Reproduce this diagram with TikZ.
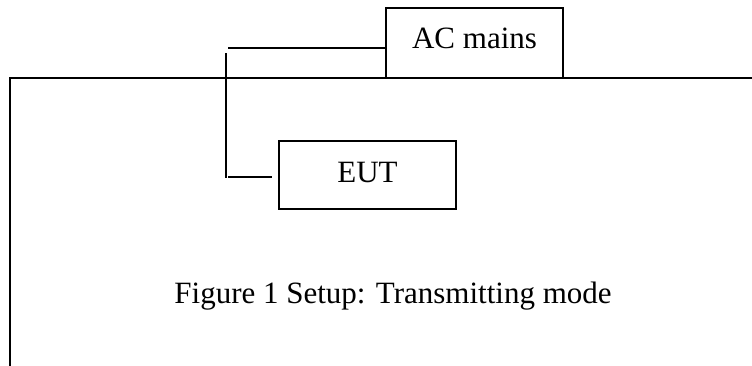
\documentclass[tikz,border=0pt]{standalone}
\usepackage{fontspec}
\setmainfont{Liberation Serif}
\begin{document}
\begin{tikzpicture}[x=1pt,y=-1pt,line width=1.5pt,
  boxst/.style={draw,rectangle,inner sep=0pt},
  lbl/.style={inner sep=0pt,anchor=base,font=\fontsize{31}{37}\selectfont}]
\useasboundingbox (0,0) rectangle (752,365);
% outer frame (open to the right and bottom)
\draw (752,78) -- (10,78) -- (10,366);
% AC mains box
\node[boxst,minimum width=177pt,minimum height=70pt] (ac) at (474.5,43) {};
\node[lbl] (actext) at (474.5,48) {AC mains};
% EUT box
\node[boxst,minimum width=177pt,minimum height=68pt] (eut) at (367.5,175) {};
\node[lbl] (euttext) at (367.5,182) {EUT};
% cable
\coordinate (c1) at (228,48);
\coordinate (c2) at (226,53);
\coordinate (c3) at (226,178);
\coordinate (c4) at (228,177);
\coordinate (c5) at (272,177);
\draw (c1) -- (ac.west |- c1);
\draw (c2) -- (c3);
\draw (c4) -- (c5);
% caption
\node[lbl] (cap) at (393,303.5) {Figure 1 Setup: Transmitting mode};
\end{tikzpicture}
\end{document}
